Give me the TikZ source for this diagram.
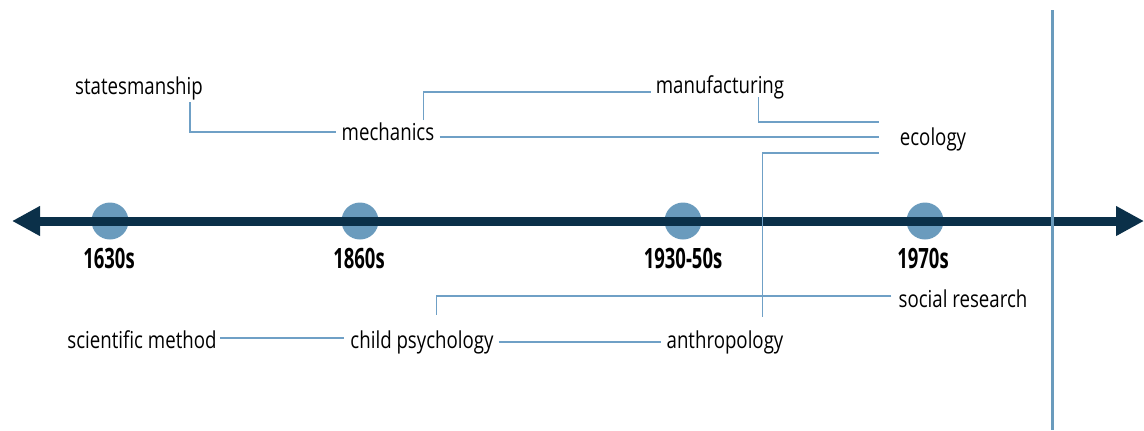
\documentclass[tikz,border=0pt]{standalone}
\usepackage{fontspec}
\setmainfont{Open Sans}[FakeStretch=0.8]
\newfontfamily\yearfont{Open Sans}[FakeStretch=0.66]
\usetikzlibrary{arrows.meta,calc}
\definecolor{axisNavy}{HTML}{0B3049}
\definecolor{dotBlue}{HTML}{6A9BBD}
\definecolor{linkBlue}{HTML}{6FA0C6}

\begin{document}
\begin{tikzpicture}[x=0.75pt,y=-0.75pt]
    \tikzstyle{every node} = [inner sep=0pt]
    \tikzstyle{field} = [font=\fontsize{17.5}{20}\selectfont, anchor=base]
    \tikzstyle{year} = [font=\yearfont\bfseries\fontsize{21}{24}\selectfont, anchor=base]
    \tikzstyle{dot} = [circle, fill=dotBlue, minimum size=27.75pt]
    \tikzstyle{link} = [draw=linkBlue, line width=1pt]
    \useasboundingbox (0,0) rectangle (1144,430);
    % dots on the time line
    \node[dot](dot1630) at (110,221){};
    \node[dot](dot1860) at (360,221){};
    \node[dot](dot1930) at (683,221){};
    \node[dot](dot1970) at (925,221){};
    % time line
    \coordinate (axisLeft) at (12,221);
    \coordinate (axisRight) at (1144,221);
    \draw[axisNavy, line width=6.75pt, {Triangle[length=21pt,width=21pt]}-{Triangle[length=21pt,width=21pt]}]
    (axisLeft)--(axisRight);
    \coordinate (dividerTop) at (1052,10);
    \coordinate (dividerBottom) at (1052,430);
    \draw[dotBlue, line width=2.25pt] (dividerTop)--(dividerBottom);
    % years
    \node[year](year1630) at (109,268){1630s};
    \node[year](year1860) at (359,268){1860s};
    \node[year](year1930) at (683,268){1930-50s};
    \node[year](year1970) at (923,268){1970s};
    % place nodes
    \node[field](statesmanship) at (139,94){statesmanship};
    \node[field](mechanics) at (388,140){mechanics};
    \node[field](manufacturing) at (720,93){manufacturing};
    \node[field](ecology) at (933,145){ecology};
    \node[field](socialResearch) at (963,307){social research};
    \node[field](sciMethod) at (142,348){scientific method};
    \node[field](childPsych) at (422,348){child psychology};
    \node[field](anthropology) at (725,348){anthropology};
    % Connections
    \draw[link] ($(statesmanship.base east)+(-13,8)$) |- ($(mechanics.base west)+(-5,-8)$);
    \draw[link] ($(mechanics.base east)+(-11,-20)$) |- ($(manufacturing.base west)+(-5,-1)$);
    \draw[link] ($(mechanics.base east)+(5,-3)$) -- ($(ecology.base west)+(-21,-8)$);
    \draw[link] ($(manufacturing.base east)+(-26,4)$) |- ($(ecology.base west)+(-21,-23)$);
    \draw[link] ($(ecology.base west)+(-21,8)$) -| ($(anthropology.base east)+(-21,-31)$);
    \draw[link] ($(socialResearch.base west)+(-7,-11)$) -| ($(childPsych.base west)+(86,-33)$);
    \draw[link] ($(sciMethod.base east)+(3,-10)$) -- ($(childPsych.base west)+(-6,-10)$);
    \draw[link] ($(childPsych.base east)+(5,-6)$) -- ($(anthropology.base west)+(-5,-6)$);
\end{tikzpicture}
\end{document}
